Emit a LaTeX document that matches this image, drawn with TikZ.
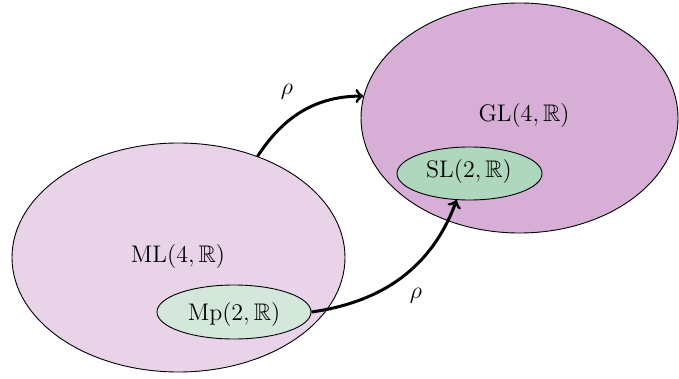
\documentclass[tikz,border=0pt]{standalone}
\usepackage{amssymb}
\usetikzlibrary{shapes.geometric}
\definecolor{mlcol}{RGB}{233,211,233}
\definecolor{glcol}{RGB}{214,174,214}
\definecolor{mpcol}{RGB}{211,232,219}
\definecolor{slcol}{RGB}{175,215,190}
\begin{document}
\begin{tikzpicture}[x=0.5pt,y=-0.5pt,
  blob/.style={ellipse,draw=black,line width=0.45pt,inner sep=0pt},
  lbl/.style={font=\large,inner sep=0pt},
  maparrow/.style={->,line width=1.5pt}]
\useasboundingbox (0,0) rectangle (679,379);
\node[blob,fill=mlcol,minimum width=166.5pt,minimum height=114.5pt] (ML) at (178.5,257.5) {};
\node[blob,fill=glcol,minimum width=158.5pt,minimum height=115pt] (GL) at (519.5,118) {};
\node[blob,fill=mpcol,minimum width=77pt,minimum height=27pt] (Mp) at (234,312) {};
\node[blob,fill=slcol,minimum width=72.5pt,minimum height=26.5pt] (SL) at (469.5,173.5) {};
\node[lbl] (mltext) at (178,256) {$\mathrm{ML}(4,\mathbb{R})$};
\node[lbl] (gltext) at (524,116) {$\mathrm{GL}(4,\mathbb{R})$};
\node[lbl] (mptext) at (234,314) {$\mathrm{Mp}(2,\mathbb{R})$};
\node[lbl] (sltext) at (469,171) {$\mathrm{SL}(2,\mathbb{R})$};
\node[lbl] (rho1) at (287,92) {$\rho$};
\node[lbl] (rho2) at (416,296) {$\rho$};
\draw[maparrow] (ML.52) to[out=57,in=180] (GL.172);
\draw[maparrow] (Mp.east) to[out=8,in=-110] (SL.244);
\end{tikzpicture}
\end{document}
